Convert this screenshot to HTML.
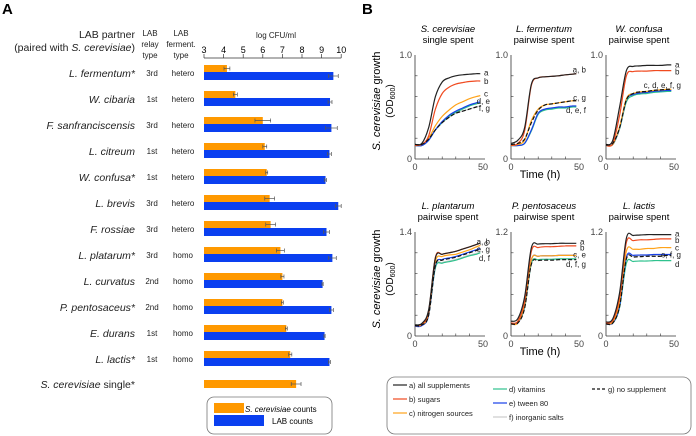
<!DOCTYPE html>
<html><head><meta charset="utf-8">
<style>
body{margin:0;background:#fff;}
svg{display:block;font-family:"Liberation Sans",sans-serif;}
</style></head>
<body>
<svg id="fig" width="696" height="436" viewBox="0 0 696 436" xmlns="http://www.w3.org/2000/svg">
<text x="2" y="14" font-size="15" font-weight="bold">A</text>
<text x="362" y="14" font-size="15" font-weight="bold">B</text>
<g font-size="10.5" fill="#222">
<text x="135" y="38" text-anchor="end">LAB partner</text>
<text x="135" y="51" text-anchor="end">(paired with <tspan font-style="italic">S. cerevisiae</tspan>)</text>
</g>
<g font-size="8" fill="#222" text-anchor="middle">
<text x="150" y="36">LAB</text>
<text x="150" y="47">relay</text><text x="150" y="58">type</text>
<text x="181" y="36">LAB</text>
<text x="181" y="47">ferment.</text><text x="181" y="58">type</text>
<text x="276" y="38" font-size="8">log CFU/ml</text>
</g>
<g id="barA"></g>
<g id="panelB"></g>
<rect x="207" y="397" width="125" height="37" rx="7" fill="#fff" stroke="#777" stroke-width="0.8"/>
<rect x="214" y="403" width="30" height="10" fill="#ff9900"/>
<rect x="214" y="415" width="50" height="11" fill="#0a3ff0"/>
<text x="245" y="412" font-size="8"><tspan font-style="italic">S. cerevisiae</tspan> counts</text>
<text x="272" y="424" font-size="8">LAB counts</text>
<rect x="387" y="377" width="304" height="57" rx="8" fill="#fff" stroke="#777" stroke-width="0.8"/>
<g id="legB" font-size="7.5" fill="#222"></g>
</svg>
<script>
const NS="http://www.w3.org/2000/svg";
function mk(tag,attrs,parent,txt){const e=document.createElementNS(NS,tag);for(const k in attrs)e.setAttribute(k,attrs[k]);if(txt!==undefined)e.textContent=txt;parent.appendChild(e);return e;}

// ---------- Panel A data ----------
const species=["L. fermentum*","W. cibaria","F. sanfranciscensis","L. citreum","W. confusa*","L. brevis","F. rossiae","L. platarum*","L. curvatus","P. pentosaceus*","E. durans","L. lactis*"];
const relayType=["3rd","1st","3rd","1st","1st","3rd","3rd","3rd","2nd","2nd","1st","1st"];
const fermType=["hetero","hetero","hetero","hetero","hetero","hetero","hetero","homo","homo","homo","homo","homo"];
const scerCounts=[4.17,4.6,6.0,6.1,6.2,6.35,6.4,6.9,7.0,7.0,7.2,7.4];
const scerErr=[0.15,0.1,0.4,0.1,0.05,0.25,0.25,0.2,0.08,0.05,0.05,0.08];
const labCounts=[9.6,9.43,9.5,9.4,9.2,9.85,9.25,9.55,9.05,9.5,9.15,9.4];
const labErr=[0.25,0.1,0.3,0.1,0.05,0.15,0.15,0.2,0.03,0.1,0.03,0.05];
const singleCount=7.7, singleErr=0.25;
const xTicksA=[3,4,5,6,7,8,9,10];

const gA=document.getElementById('barA');
const xA=v=>204+(v-3)*19.6;
mk('line',{x1:xA(3),x2:xA(10),y1:58,y2:58,stroke:'#333','stroke-width':0.8},gA);
xTicksA.forEach(t=>{
  mk('line',{x1:xA(t),x2:xA(t),y1:58,y2:54,stroke:'#333','stroke-width':0.7},gA);
  const tx=mk('text',{x:xA(t),y:53,'font-size':9,'text-anchor':'middle'},gA,String(t));
  
  
});
function errbar(g,x,e,y){
  mk('line',{x1:xA(x-e),x2:xA(x+e),y1:y,y2:y,stroke:'#555','stroke-width':0.7},g);
  mk('line',{x1:xA(x-e),x2:xA(x-e),y1:y-2,y2:y+2,stroke:'#555','stroke-width':0.7},g);
  mk('line',{x1:xA(x+e),x2:xA(x+e),y1:y-2,y2:y+2,stroke:'#555','stroke-width':0.7},g);
}
species.forEach((s,i)=>{
  const y=73+26*i;
  const t=mk('text',{x:135,y:y+4,'font-size':10.5,'font-style':'italic','text-anchor':'end',fill:'#222'},gA,s);
  
  
  const r=mk('text',{x:152,y:y+3,'font-size':8,'text-anchor':'middle',fill:'#222'},gA,relayType[i]);
  
  
  const f=mk('text',{x:183,y:y+3,'font-size':8,'text-anchor':'middle',fill:'#222'},gA,fermType[i]);
  
  
  const bo=mk('rect',{x:xA(3),y:y-8,width:xA(scerCounts[i])-xA(3),height:7,fill:'#ff9900'},gA);
  
  
  const bb=mk('rect',{x:xA(3),y:y-1,width:xA(labCounts[i])-xA(3),height:8,fill:'#0a3ff0'},gA);
  
  
  errbar(gA,scerCounts[i],scerErr[i],y-4.5);
  errbar(gA,labCounts[i],labErr[i],y+3);
});
{
  const y=73+26*12;
  const t=mk('text',{x:135,y:y+3,'font-size':10.5,'text-anchor':'end',fill:'#222'},gA);
  
  
  t.innerHTML='<tspan font-style="italic">S. cerevisiae</tspan> single*';
  const bo=mk('rect',{x:xA(3),y:y-5,width:xA(singleCount)-xA(3),height:8,fill:'#ff9900'},gA);
  
  
  errbar(gA,singleCount,singleErr,y-1);
}

// ---------- Panel B data ----------
const times=[0,5,10,15,20,25,30,35,40,45,48];
const seriesColors=["#222","#f04a20","#ffa31a","#2fc28e","#1840e8","#cccccc","#111"];
const p1a=[.14,.15,.30,.60,.74,.78,.80,.81,.815,.82,.82];
const p1b=[.13,.14,.22,.48,.63,.69,.72,.735,.745,.75,.75];
const p1c=[.13,.14,.20,.32,.41,.47,.52,.55,.58,.60,.61];
const p1d=[.13,.13,.18,.28,.35,.41,.45,.48,.51,.53,.54];
const p1e=[.13,.13,.18,.28,.36,.42,.46,.49,.52,.54,.55];
const p1f=[.14,.14,.19,.28,.35,.40,.44,.46,.48,.50,.51];
const p1g=[.14,.14,.19,.28,.35,.40,.44,.46,.48,.50,.51];
const p2a=[.15,.18,.30,.72,.78,.79,.795,.80,.81,.815,.82];
const p2b=[.13,.15,.27,.71,.78,.79,.795,.80,.81,.815,.82];
const p2c=[.13,.14,.18,.37,.48,.52,.53,.54,.55,.56,.56];
const p2d=[.13,.13,.15,.27,.43,.47,.48,.49,.49,.50,.50];
const p2e=[.13,.13,.15,.28,.44,.48,.49,.50,.50,.51,.51];
const p2f=[.13,.13,.15,.28,.44,.48,.49,.50,.50,.51,.51];
const p2g=[.14,.15,.19,.35,.47,.52,.53,.54,.55,.56,.56];
const p3a=[.13,.18,.50,.85,.89,.895,.90,.90,.90,.905,.905];
const p3b=[.13,.15,.42,.80,.84,.845,.845,.85,.85,.85,.85];
const p3c=[.13,.14,.31,.58,.63,.645,.65,.66,.665,.67,.67];
const p3d=[.13,.14,.29,.55,.61,.625,.63,.64,.645,.65,.65];
const p3e=[.13,.14,.30,.57,.62,.635,.64,.65,.655,.66,.66];
const p3f=[.13,.14,.30,.57,.62,.635,.645,.655,.66,.665,.665];
const p3g=[.14,.15,.30,.57,.63,.645,.65,.66,.665,.67,.67];
const p4a=[.15,.17,.35,1.05,1.10,1.12,1.14,1.17,1.20,1.23,1.25];
const p4b=[.14,.16,.33,1.06,1.10,1.12,1.14,1.17,1.20,1.23,1.25];
const p4c=[.14,.15,.30,1.00,1.07,1.09,1.10,1.13,1.16,1.20,1.22];
const p4d=[.14,.15,.28,.92,.98,1.00,1.02,1.05,1.08,1.10,1.12];
const p4e=[.13,.14,.28,.95,1.03,1.05,1.07,1.10,1.13,1.16,1.18];
const p4f=[.14,.15,.28,.93,.99,1.01,1.03,1.06,1.09,1.11,1.13];
const p4g=[.14,.15,.28,.95,1.02,1.04,1.06,1.09,1.12,1.15,1.17];
const p5a=[.17,.20,.45,1.02,1.06,1.065,1.065,1.07,1.07,1.07,1.07];
const p5b=[.15,.17,.40,.98,1.02,1.03,1.03,1.035,1.04,1.04,1.04];
const p5c=[.14,.15,.36,.88,.92,.925,.925,.93,.93,.93,.93];
const p5d=[.15,.16,.33,.84,.88,.885,.885,.89,.89,.89,.89];
const p5e=[.14,.15,.35,.88,.92,.925,.925,.93,.93,.93,.93];
const p5f=[.14,.15,.33,.84,.88,.885,.885,.89,.89,.89,.89];
const p5g=[.14,.15,.32,.83,.87,.875,.875,.88,.88,.88,.88];
const p6a=[.16,.20,.50,1.13,1.16,1.165,1.17,1.17,1.17,1.17,1.17];
const p6b=[.15,.18,.45,1.08,1.10,1.11,1.11,1.115,1.12,1.12,1.12];
const p6c=[.14,.16,.40,.98,1.00,1.00,1.01,1.01,1.02,1.02,1.02];
const p6d=[.14,.15,.33,.84,.86,.865,.865,.87,.87,.87,.87];
const p6e=[.14,.15,.35,.91,.93,.935,.935,.94,.94,.94,.94];
const p6f=[.14,.15,.34,.90,.92,.925,.93,.93,.93,.935,.935];
const p6g=[.14,.15,.34,.89,.91,.915,.92,.92,.92,.93,.93];

const plotsB=[
 {t1:"S. cerevisiae",t2:"single spent",x0:415,y0:159,yt:55,ymax:1.0,ylab:"1.0",s:[p1a,p1b,p1c,p1d,p1e,p1f,p1g],
  ends:[["a",.83],["b",.75],["c",.63],["d, e",.56],["f, g",.49]]},
 {t1:"L. fermentum",t2:"pairwise spent",x0:511,y0:159,yt:55,ymax:1.0,ylab:"1.0",s:[p2a,p2b,p2c,p2d,p2e,p2f,p2g],
  ends:[["a, b",.86],["c, g",.59],["d, e, f",.47]]},
 {t1:"W. confusa",t2:"pairwise spent",x0:606,y0:159,yt:55,ymax:1.0,ylab:"1.0",s:[p3a,p3b,p3c,p3d,p3e,p3f,p3g],
  ends:[["a",.91],["b",.84],["c, d, e, f, g",.71]]},
 {t1:"L. plantarum",t2:"pairwise spent",x0:415,y0:336,yt:232,ymax:1.4,ylab:"1.4",s:[p4a,p4b,p4c,p4d,p4e,p4f,p4g],
  ends:[["a, b",1.27],["c",1.25],["e, g",1.17],["d, f",1.05]]},
 {t1:"P. pentosaceus",t2:"pairwise spent",x0:511,y0:336,yt:232,ymax:1.2,ylab:"1.2",s:[p5a,p5b,p5c,p5d,p5e,p5f,p5g],
  ends:[["a",1.09],["b",1.02],["c, e",.94],["d, f, g",.83]]},
 {t1:"L. lactis",t2:"pairwise spent",x0:606,y0:336,yt:232,ymax:1.2,ylab:"1.2",s:[p6a,p6b,p6c,p6d,p6e,p6f,p6g],
  ends:[["a",1.18],["b",1.11],["c",1.02],["e, f, g",.94],["d",.83]]}
];
function smoothPath(pts){
  let d='M'+pts[0][0].toFixed(1)+','+pts[0][1].toFixed(1);
  for(let i=0;i<pts.length-1;i++){
    const p0=pts[Math.max(0,i-1)],p1=pts[i],p2=pts[i+1],p3=pts[Math.min(pts.length-1,i+2)];
    const c1x=p1[0]+(p2[0]-p0[0])/6,c1y=p1[1]+(p2[1]-p0[1])/6;
    const c2x=p2[0]-(p3[0]-p1[0])/6,c2y=p2[1]-(p3[1]-p1[1])/6;
    d+=' C'+c1x.toFixed(1)+','+c1y.toFixed(1)+' '+c2x.toFixed(1)+','+c2y.toFixed(1)+' '+p2[0].toFixed(1)+','+p2[1].toFixed(1);
  }
  return d;
}
const gB=document.getElementById('panelB');
const drawOrder=[5,3,4,2,1,0,6];
plotsB.forEach((p,pi)=>{
  const g=mk('g',{},gB);
  
  
  const xs=t=>p.x0+t*68/50;
  const ys=v=>p.y0-v/p.ymax*(p.y0-p.yt);
  const t1=mk('text',{x:p.x0+33,y:p.yt-23,'font-size':9.5,'font-style':'italic','text-anchor':'middle'},g,p.t1);
  
  
  mk('text',{x:p.x0+33,y:p.yt-12,'font-size':9.5,'text-anchor':'middle'},g,p.t2);
  mk('line',{x1:p.x0,x2:p.x0,y1:p.yt,y2:p.y0,stroke:'#333','stroke-width':0.8},g);
  mk('line',{x1:p.x0,x2:p.x0+70,y1:p.y0,y2:p.y0,stroke:'#333','stroke-width':0.8},g);
  for(let k=1;k<5;k++){const yy=p.y0-k*(p.y0-p.yt)/5;mk('line',{x1:p.x0,x2:p.x0+2.5,y1:yy,y2:yy,stroke:'#333','stroke-width':0.6},g);}
  for(let k=1;k<5;k++){const xx=p.x0+k*68/5;mk('line',{x1:xx,x2:xx,y1:p.y0,y2:p.y0-2.5,stroke:'#333','stroke-width':0.6},g);}
  mk('text',{x:p.x0-3,y:p.yt+3,'font-size':9,'text-anchor':'end',fill:'#444'},g,p.ylab);
  mk('text',{x:p.x0-3,y:p.y0+3,'font-size':9,'text-anchor':'end',fill:'#444'},g,'0');
  mk('text',{x:p.x0,y:p.y0+11,'font-size':9,'text-anchor':'middle',fill:'#444'},g,'0');
  mk('text',{x:p.x0+68,y:p.y0+11,'font-size':9,'text-anchor':'middle',fill:'#444'},g,'50');
  drawOrder.forEach(si=>{
    const pts=p.s[si].map((v,k)=>[xs(times[k]),ys(v)]);
    const path=mk('path',{d:smoothPath(pts),fill:'none',stroke:seriesColors[si],'stroke-width':1.2,'stroke-linejoin':'round'},g);
    if(si===6)path.setAttribute('stroke-dasharray','4,2');
    
    
  });
  p.ends.forEach(e=>{
    const lb=mk('text',{y:ys(e[1])+3,'font-size':8,fill:'#222','text-anchor':e[0].length>1?'end':'start'},g,e[0]);
    lb.setAttribute('x',e[0].length===1?p.x0+69:p.x0+75);
    
    
  });
});
[101,279].forEach(cy=>{
  const t=mk('text',{transform:`translate(380,${cy}) rotate(-90)`,'font-size':11,'text-anchor':'middle'},gB);
  t.innerHTML='<tspan font-style="italic">S. cerevisiae</tspan> growth';
  
  
  const t2=mk('text',{transform:`translate(393,${cy}) rotate(-90)`,'font-size':10,'text-anchor':'middle'},gB);
  t2.innerHTML='(OD<tspan font-size="7" dy="2">600</tspan><tspan dy="-2">)</tspan>';
});
[178,355].forEach(y=>{
  const t=mk('text',{x:540,y:y,'font-size':11,'text-anchor':'middle'},gB,'Time (h)');
  
  
});
const legLabels=["a) all supplements","b) sugars","c) nitrogen sources","d) vitamins","e) tween 80","f) inorganic salts","g) no supplement"];
const legPos=[[393,388],[393,402],[393,416],[493,392],[493,406],[493,420],[592,392]];
const gL=document.getElementById('legB');
legLabels.forEach((l,i)=>{
  const [x,y]=legPos[i];
  const ln=mk('line',{x1:x,x2:x+14,y1:y-3,y2:y-3,stroke:seriesColors[i],'stroke-width':1.2},gL);
  if(i===6)ln.setAttribute('stroke-dasharray','3,2');
  const t=mk('text',{x:x+16,y:y},gL,l);
  
  
});
</script>
</body></html>
